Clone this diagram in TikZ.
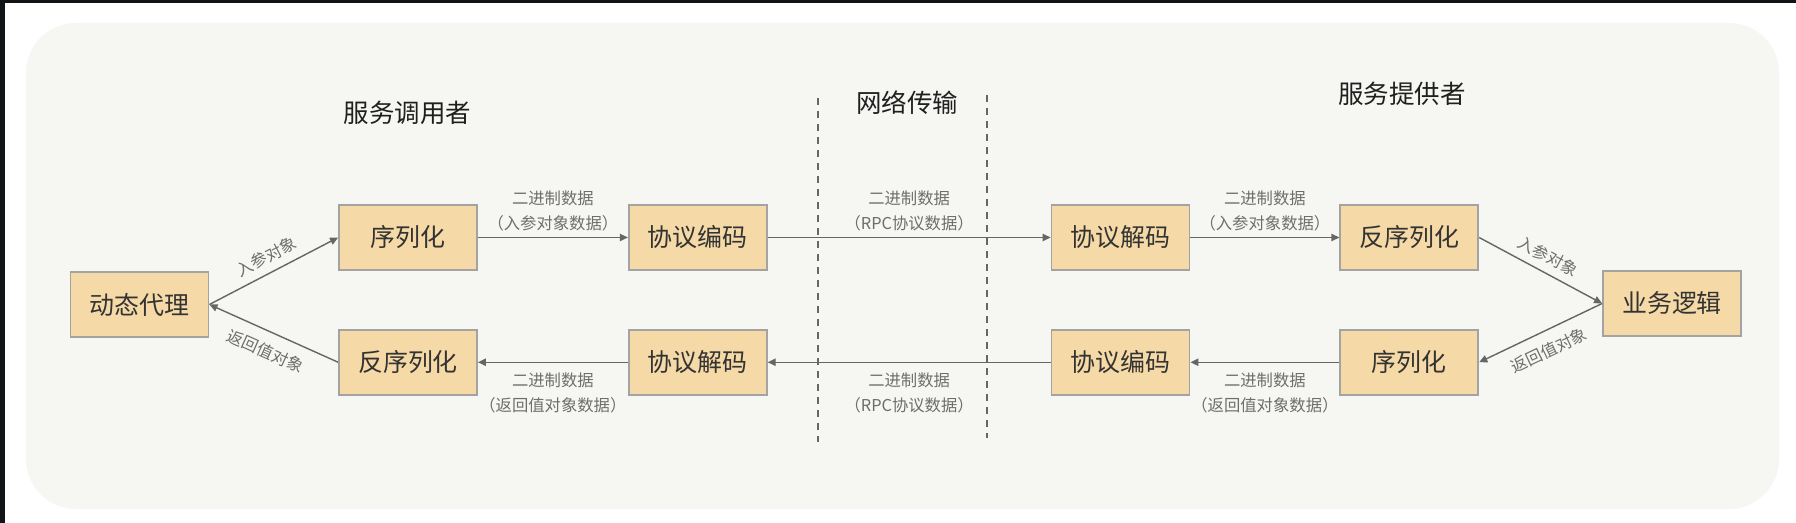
\documentclass[tikz,border=0pt]{standalone}
\usepackage{fontspec}
\setmainfont{Noto Sans CJK SC}
\usepackage{tikz}
\usetikzlibrary{arrows.meta,positioning}
\definecolor{RpcBack}{HTML}{F6F6F3}
\definecolor{RpcFill}{HTML}{F5D9A6}
\definecolor{RpcBorder}{HTML}{A3A3A3}
\definecolor{RpcArrow}{HTML}{666666}
\definecolor{RpcLabel}{HTML}{6E6E6E}
\definecolor{RpcText}{HTML}{333333}
\definecolor{ScreenEdge}{HTML}{101416}

\begin{document}
\begin{tikzpicture}[
  node distance=3cm,
  stage/.style={draw=RpcBorder, line width=1pt, fill=RpcFill, minimum width=2.76cm, minimum height=1.3cm, inner sep=0pt, text=RpcText, font=\fontsize{14.2}{16}\selectfont},
  heading/.style={text=black!88, font=\fontsize{14.5}{16}\selectfont},
  tag/.style={text=RpcLabel, font=\fontsize{9.3}{14.2}\selectfont, align=center},
  arrow/.style={-{Triangle[length=4.6pt,width=4.2pt]}, line width=0.8pt, color=RpcArrow},
  cut/.style={dash pattern=on 4pt off 3.4pt, line width=0.7pt, color=RpcArrow}
]
  \useasboundingbox (0,0) rectangle (35.92,-10.46);
  \fill[white] (0,0) rectangle (35.92,-10.46);
  \fill[ScreenEdge] (0,0) rectangle (35.92,-0.06);
  \fill[ScreenEdge] (0,0) rectangle (0.1,-10.46);
  \fill[RpcBack, rounded corners=1cm] (0.52,-0.46) rectangle (35.58,-10.18);

  % caller side
  \node[stage] (proxy) at (2.79,-6.09) {动态代理};
  \node[stage] (callerSer) at (8.16,-4.75) {序列化};
  \node[stage, below=1.16cm of callerSer] (callerDeser) {反序列化};
  \node[stage, right=of callerSer] (callerEnc) {协议编码};
  \node[stage, right=of callerDeser] (callerDec) {协议解码};

  % provider side
  \node[stage, right=5.66cm of callerEnc] (providerDec) {协议解码};
  \node[stage, right=5.66cm of callerDec] (providerEnc) {协议编码};
  \node[stage, right=2.98cm of providerDec] (providerDeser) {反序列化};
  \node[stage, right=2.98cm of providerEnc] (providerSer) {序列化};
  \node[stage] (logic) at (33.44,-6.07) {业务逻辑};

  \node[heading] (callerTitle) at (8.15,-2.26) {服务调用者};
  \node[heading] (netTitle) at (18.14,-2.06) {网络传输};
  \node[heading] (providerTitle) at (28.04,-1.88) {服务提供者};

  % network boundary
  \draw[cut] (16.36,-1.96) -- (16.36,-8.84);
  \draw[cut] (19.74,-1.90) -- (19.74,-8.76);

  \draw[arrow] (proxy.east) -- node[tag, sloped, above=1pt] {入参对象} (callerSer.west);
  \draw[arrow] (callerDeser.west) -- node[tag, sloped, below=3pt] {返回值对象} (proxy.east);
  \draw[arrow] (callerSer) -- node[tag, above] {二进制数据\\（入参对象数据）} (callerEnc);
  \draw[arrow] (callerDec) -- node[tag, below=2pt] {二进制数据\\（返回值对象数据）} (callerDeser);
  \draw[arrow] (callerEnc) -- node[tag, above] {二进制数据\\（RPC协议数据）} (providerDec);
  \draw[arrow] (providerEnc) -- node[tag, below=2pt] {二进制数据\\（RPC协议数据）} (callerDec);
  \draw[arrow] (providerDec) -- node[tag, above] {二进制数据\\（入参对象数据）} (providerDeser);
  \draw[arrow] (providerSer) -- node[tag, below=2pt] {二进制数据\\（返回值对象数据）} (providerEnc);
  \draw[arrow] (providerDeser.east) -- node[tag, sloped, above=1pt] {入参对象} (logic.west);
  \draw[arrow] (logic.west) -- node[tag, sloped, below=3pt] {返回值对象} (providerSer.east);
\end{tikzpicture}
\end{document}
